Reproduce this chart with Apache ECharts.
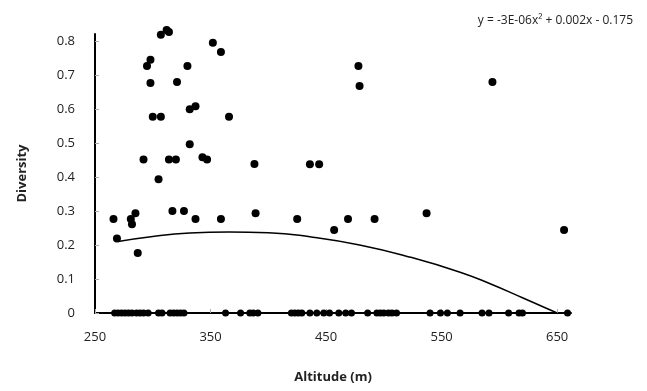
<!DOCTYPE html>
<html>
<head>
<meta charset="utf-8">
<script src="https://cdn.jsdelivr.net/npm/echarts@6/dist/echarts.min.js"></script>
<style>html,body{margin:0;padding:0;background:#fff;}#c{width:647px;height:391px;}</style>
</head>
<body>
<div id="c"></div>
<script>
// Non-zero diversity observations
const altitude = [307,312,314,352,359,298,295,330,298,321,332,337,300,307,366,332,292,314,320,343,347,388,305,266,269,281,282,285,287,317,327,337,359,389,478,479,436,444,425,457,469,492,537,594,656];
const diversity = [0.818,0.832,0.826,0.794,0.767,0.744,0.726,0.726,0.676,0.679,0.599,0.608,0.577,0.577,0.577,0.496,0.451,0.451,0.451,0.458,0.451,0.438,0.393,0.276,0.219,0.276,0.261,0.293,0.176,0.300,0.300,0.276,0.276,0.293,0.726,0.667,0.437,0.437,0.276,0.244,0.276,0.276,0.293,0.679,0.244];
// Zero diversity observations (altitudes)
const zeroAltitude = [267,270,273,276,279,282,286,289,292,296,305,308,315,318,321,324,327,363,376,384,387,391,420,423,426,429,436,442,448,453,461,467,472,486,494,497,500,504,507,511,540,549,555,566,585,591,608,617,620,659];
// Trend line points
const trendX = [270,300,332,366,400,436,479,523,566,592,620,650];
const trendY = [0.210,0.225,0.235,0.238,0.236,0.224,0.200,0.164,0.120,0.086,0.045,0.000];
const equationText = 'y = -3E-06x\u00B2 + 0.002x - 0.175';

const pts = altitude.map((a,i)=>[a,diversity[i]]);
const zeroPts = zeroAltitude.map(a=>[a,0]);
const trend = trendX.map((x,i)=>[x,trendY[i]]);

const chart = echarts.init(document.getElementById('c'), null, {renderer:'canvas'});
const font = '"Open Sans", "Liberation Sans", sans-serif';
chart.setOption({
  animation:false,
  backgroundColor:'#fff',
  title:{text:equationText, right:9, top:10, textStyle:{fontFamily:font, fontSize:12, fontWeight:'normal', color:'#222'}},
  grid:{left:95, right:76, top:34, bottom:78},
  xAxis:{type:'value', min:250, max:662, interval:100,
    name:'Altitude (m)', nameLocation:'middle', nameGap:58,
    nameTextStyle:{fontFamily:font, fontSize:13, fontWeight:'bold', color:'#222'},
    axisLine:{lineStyle:{color:'#000', width:2}},
    axisTick:{inside:true, length:4, lineStyle:{color:'#aaa'}},
    axisLabel:{showMaxLabel:false, margin:18, fontFamily:font, fontSize:13, color:'#222'},
    splitLine:{show:false}},
  yAxis:{type:'value', min:0, max:0.82, interval:0.1,
    name:'Diversity', nameLocation:'middle', nameGap:66, nameRotate:90,
    nameTextStyle:{fontFamily:font, fontSize:13, fontWeight:'bold', color:'#222'},
    axisLine:{show:true, lineStyle:{color:'#000', width:2}},
    axisTick:{show:true, inside:true, length:4, lineStyle:{color:'#aaa'}},
    axisLabel:{showMaxLabel:false, margin:20, fontFamily:font, fontSize:13, color:'#222',
      formatter:v=> v===0 ? '0' : v.toFixed(1)},
    splitLine:{show:false}},
  series:[
    {type:'line', data:trend, smooth:true, symbol:'none', lineStyle:{color:'#000', width:1.5}, z:3},
    {type:'scatter', data:pts, symbolSize:8, clip:false, itemStyle:{color:'#000', opacity:1}, z:4},
    {type:'scatter', data:zeroPts, symbolSize:7, clip:false, itemStyle:{color:'#000', opacity:1}, z:4}
  ]
});
</script>
</body>
</html>
